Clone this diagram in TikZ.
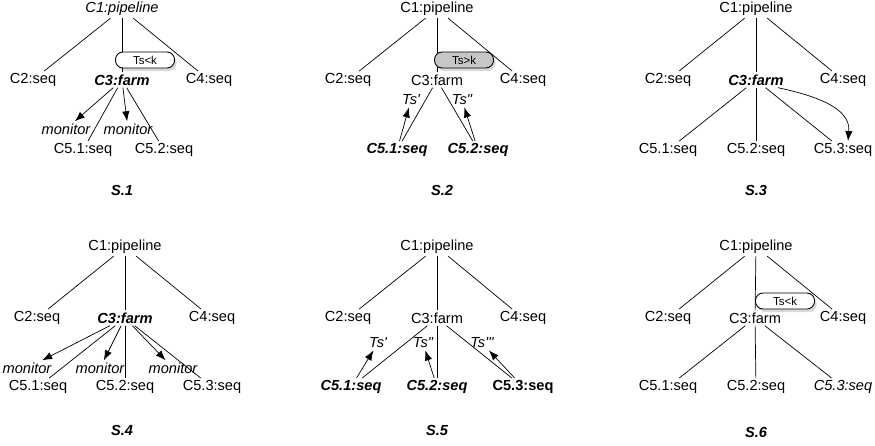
\documentclass[tikz,border=0pt]{standalone}
\usepackage{fontspec}
\setmainfont{Liberation Sans}
\usetikzlibrary{arrows.meta,shadows}

\tikzset{
  every node/.style={inner sep=2pt},
  it/.style={font=\itshape},
  bi/.style={font=\bfseries\itshape},
  bd/.style={font=\bfseries},
  tsbox/.style={draw,fill=white,rounded corners=7.5pt,minimum width=59pt,
    minimum height=16pt,inner sep=0pt,line width=.9pt,font=\fontsize{11.5}{12}\selectfont,
    drop shadow={opacity=.3,shadow xshift=2pt,shadow yshift=-3pt}},
  tsgray/.style={tsbox,fill=black!22},
  arr/.style={-{Latex[length=10pt,width=7.5pt]}}
}

\begin{document}
\fontsize{14.6}{16}\selectfont
\begin{tikzpicture}[x=1pt,y=1pt,line width=.7pt]
      \useasboundingbox (0,0) rectangle (875,-445);

      \node [it] (s1c1) at (122,-9) {C1:pipeline};
      \node (s1c2) at (33,-80) {C2:seq};
      \node [bi] (s1c3) at (122,-80) {C3:farm};
      \node (s1c4) at (209,-80) {C4:seq};
      \node [it] (s1m1) at (66,-129) {monitor};
      \node [it] (s1m2) at (128,-129) {monitor};
      \node (s1c51) at (83,-150) {C5.1:seq};
      \node (s1c52) at (164,-150) {C5.2:seq};
      \node [bi] (s1) at (122,-190) {S.1};

      \foreach \from/\to in {s1c1/s1c2,s1c1/s1c3,s1c1/s1c4,s1c3/s1c51,s1c3/s1c52}
        \draw (\from) -- (\to);
      \foreach \from/\to in {s1c3/s1m1,s1c3/s1m2}
        \draw [arr] (\from) -- (\to);
      \node [tsbox] (s1ts) at (145,-60) {Ts<k};

      \node (s2c1) at (437,-9) {C1:pipeline};
      \node (s2c2) at (348,-80) {C2:seq};
      \node (s2c3) at (437,-80) {C3:farm};
      \node (s2c4) at (523,-80) {C4:seq};
      \node [it] (s2t1) at (411,-100) {Ts\textquotesingle};
      \node [it] (s2t2) at (462,-100) {Ts\textquotedbl};
      \node [bi] (s2c51) at (397,-150) {C5.1:seq};
      \node [bi] (s2c52) at (478,-150) {C5.2:seq};
      \node [bi] (s2) at (442,-190) {S.2};

      \foreach \from/\to in {s2c1/s2c2,s2c1/s2c3,s2c1/s2c4,s2c3/s2c51,s2c3/s2c52}
        \draw (\from) -- (\to);
      \foreach \from/\to in {s2c51/s2t1,s2c52/s2t2}
        \draw [arr] (\from) -- (\to);
      \node [tsgray] (s2ts) at (464,-60) {Ts>k};

      \node (s3c1) at (756,-9) {C1:pipeline};
      \node (s3c2) at (668,-80) {C2:seq};
      \node [bi] (s3c3) at (756,-80) {C3:farm};
      \node (s3c4) at (843,-80) {C4:seq};
      \node (s3c51) at (668,-150) {C5.1:seq};
      \node (s3c52) at (756,-150) {C5.2:seq};
      \node (s3c53) at (843,-150) {C5.3:seq};
      \node [bi] (s3) at (756,-190) {S.3};

      \foreach \from/\to in {s3c1/s3c2,s3c1/s3c3,s3c1/s3c4,s3c3/s3c51,s3c3/s3c52,s3c3/s3c53}
        \draw (\from) -- (\to);
      \draw [arr] ([xshift=-8pt]s3c3.south east) to[out=-12,in=85] ([xshift=5pt]s3c53.north);

      \node (s4c1) at (125,-247) {C1:pipeline};
      \node (s4c2) at (37,-318) {C2:seq};
      \node [bi] (s4c3) at (125,-318) {C3:farm};
      \node (s4c4) at (212,-318) {C4:seq};
      \node [it] (s4m1) at (27,-368) {monitor};
      \node [it] (s4m2) at (100,-368) {monitor};
      \node [it] (s4m3) at (173,-368) {monitor};
      \node (s4c51) at (38,-387) {C5.1:seq};
      \node (s4c52) at (125,-387) {C5.2:seq};
      \node (s4c53) at (212,-387) {C5.3:seq};
      \node [bi] (s4) at (122,-430) {S.4};

      \foreach \from/\to in {s4c1/s4c2,s4c1/s4c3,s4c1/s4c4,s4c3/s4c51,s4c3/s4c52,s4c3/s4c53}
        \draw (\from) -- (\to);
      \foreach \from/\to in {s4c3/s4m1,s4c3/s4m2,s4c3/s4m3}
        \draw [arr] (\from) -- (\to);

      \node (s5c1) at (437,-247) {C1:pipeline};
      \node (s5c2) at (348,-318) {C2:seq};
      \node (s5c3) at (437,-318) {C3:farm};
      \node (s5c4) at (523,-318) {C4:seq};
      \node [it] (s5t1) at (378,-343) {Ts\textquotesingle};
      \node [it] (s5t2) at (423,-343) {Ts\textquotedbl};
      \node [it] (s5t3) at (482,-343) {Ts\textquotesingle\textquotesingle\textquotesingle};
      \node [bi] (s5c51) at (351,-387) {C5.1:seq};
      \node [bi] (s5c52) at (437,-387) {C5.2:seq};
      \node [bd] (s5c53) at (523,-387) {C5.3:seq};
      \node [bi] (s5) at (437,-430) {S.5};

      \foreach \from/\to in {s5c1/s5c2,s5c1/s5c3,s5c1/s5c4,s5c3/s5c51,s5c3/s5c52,s5c3/s5c53}
        \draw (\from) -- (\to);
      \foreach \from/\to in {s5c51/s5t1,s5c52/s5t2,s5c53/s5t3}
        \draw [arr] (\from) -- (\to);

      \node (s6c1) at (756,-247) {C1:pipeline};
      \node (s6c2) at (668,-318) {C2:seq};
      \node (s6c3) at (755,-318) {C3:farm};
      \node (s6c4) at (843,-318) {C4:seq};
      \node (s6c51) at (668,-387) {C5.1:seq};
      \node (s6c52) at (756,-387) {C5.2:seq};
      \node [it] (s6c53) at (843,-387) {C5.3:seq};
      \node [bi] (s6) at (756,-432) {S.6};

      \foreach \from/\to in {s6c1/s6c2,s6c1/s6c3,s6c1/s6c4,s6c3/s6c51,s6c3/s6c52,s6c3/s6c53}
        \draw (\from) -- (\to);
      \node [tsbox] (s6ts) at (785,-301) {Ts<k};
    \end{tikzpicture}
\end{document}
